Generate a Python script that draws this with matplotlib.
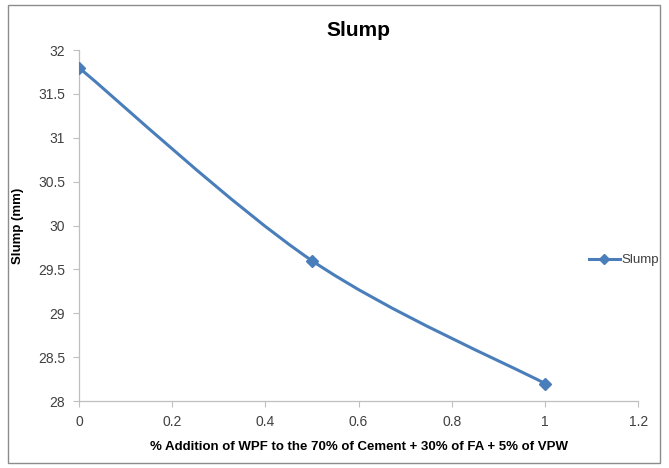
import matplotlib.pyplot as plt
from matplotlib.path import Path
from matplotlib.patches import PathPatch, Rectangle

plt.rcParams['font.family'] = ['Liberation Sans Narrow', 'Liberation Sans', 'DejaVu Sans']

x_vals = [0, 0.5, 1]
slump = [31.8, 29.6, 28.2]
x_ticks = [0, 0.2, 0.4, 0.6, 0.8, 1, 1.2]
y_ticks = [28, 28.5, 29, 29.5, 30, 30.5, 31, 31.5, 32]
y_labels = ['28', '28.5', '29', '29.5', '30', '30.5', '31', '31.5', '32']
x_labels = ['0', '0.2', '0.4', '0.6', '0.8', '1', '1.2']

line_color = '#4A7EBB'
text_color = '#404040'

fig = plt.figure(figsize=(6.69, 4.68), dpi=100)
ax = fig.add_axes([0.118, 0.143, 0.836, 0.75])

# Excel-style smoothed line (Catmull-Rom as cubic Bezier)
pts = list(zip(x_vals, slump))
verts = [pts[0]]
codes = [Path.MOVETO]
for i in range(len(pts) - 1):
    p0 = pts[i - 1] if i > 0 else pts[i]
    p1 = pts[i]
    p2 = pts[i + 1]
    p3 = pts[i + 2] if i + 2 < len(pts) else pts[i + 1]
    c1 = (p1[0] + (p2[0] - p0[0]) / 6, p1[1] + (p2[1] - p0[1]) / 6)
    c2 = (p2[0] - (p3[0] - p1[0]) / 6, p2[1] - (p3[1] - p1[1]) / 6)
    verts += [c1, c2, p2]
    codes += [Path.CURVE4] * 3
ax.add_patch(PathPatch(Path(verts, codes), facecolor='none', edgecolor=line_color,
                       lw=2.2, capstyle='round', zorder=2))
ax.plot(x_vals, slump, linestyle='none', marker='D', markersize=6.5,
        color=line_color, zorder=3)

# legend proxy
ax.plot([], [], '-', marker='D', color=line_color, lw=2.2, markersize=5, label='Slump')
leg = fig.legend(loc='center left', bbox_to_anchor=(0.872, 0.444), frameon=False,
                 handlelength=2.4, handletextpad=0.1, fontsize=9.5, borderaxespad=0)
for t in leg.get_texts():
    t.set_color(text_color)

ax.set_xlim(0, 1.2)
ax.set_ylim(28, 32)
ax.set_xticks(x_ticks)
ax.set_xticklabels(x_labels)
ax.set_yticks(y_ticks)
ax.set_yticklabels(y_labels)
ax.tick_params(direction='out', length=4, color='#BFBFBF', labelcolor=text_color,
               labelsize=10, pad=6)
for side in ['top', 'right']:
    ax.spines[side].set_visible(False)
for side in ['left', 'bottom']:
    ax.spines[side].set_color('#BFBFBF')
    ax.spines[side].set_linewidth(0.9)

ax.set_title('Slump', fontsize=15, fontweight='bold', color='black', pad=10)
ax.set_xlabel('% Addition of WPF to the 70% of Cement + 30% of FA + 5% of VPW',
              fontsize=9.5, fontweight='bold', color='black', labelpad=9)
ax.set_ylabel('Slump (mm)', fontsize=9.5, fontweight='bold', color='black', labelpad=10)

# chart area border
fig.patches.append(Rectangle((0.012, 0.01), 0.975, 0.98, transform=fig.transFigure,
                             fill=False, edgecolor='#8C8C8C', lw=1.0))

fig.savefig('out.png', dpi=100)
